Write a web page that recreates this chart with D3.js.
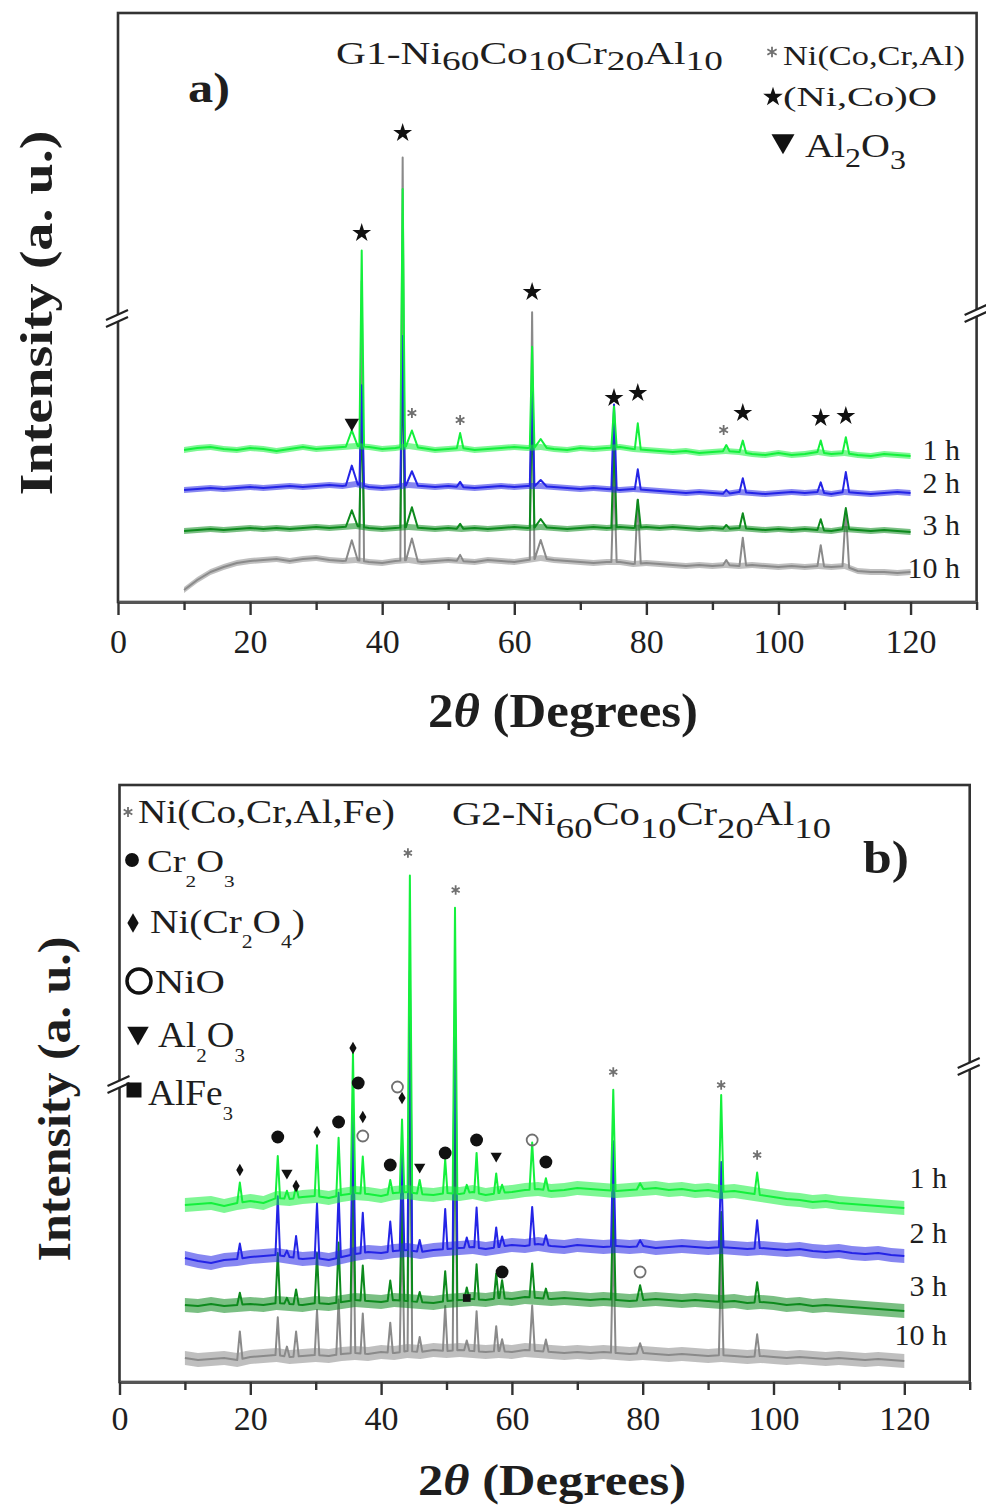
<!DOCTYPE html>
<html>
<head>
<meta charset="utf-8">
<script src="https://cdn.jsdelivr.net/npm/d3@7"></script>
<style>
  body { margin: 0; background: #fff; }
  svg { display: block; }
  text { font-family: "Liberation Serif", "Times New Roman", serif; fill: #1e1e1e; }
</style>
</head>
<body>
<svg id="chart" width="986" height="1511"></svg>
<script>
// ---- data ----
const angles = [10, 12, 14, 16, 18, 20, 22, 24, 26, 28, 30, 32, 34, 36, 38, 40, 42, 44, 46, 48,
  50, 52, 54, 56, 58, 60, 62, 64, 66, 68, 70, 72, 74, 76, 78, 80, 82, 84, 86, 88,
  90, 92, 94, 96, 98, 100, 102, 104, 106, 108, 110, 112, 114, 116, 118, 120];
const traceNames = ["1 h", "2 h", "3 h", "10 h"];
const majorTicks = [0, 20, 40, 60, 80, 100, 120];
const minorTicks = [10, 30, 50, 70, 90, 110, 130];

// panel a, baselines (a.u.) for 1 h, 2 h, 3 h, 10 h
const baseA1 = [152,154,155,153,152,154,153,151,153,155,153,154,155,156,155,153,154,156,154,152,
  153,154,152,153,154,155,154,155,153,152,154,153,154,155,153,152,151,150,151,149,
  150,151,150,148,147,149,147,148,150,148,149,147,146,148,147,146];
const baseA2 = [112,113,114,113,114,115,114,115,116,115,116,117,116,118,115,114,115,117,116,115,
  116,115,114,115,116,115,116,116,115,114,113,114,113,112,113,112,111,110,109,110,
  109,108,110,109,108,109,110,109,110,108,110,109,108,109,110,109];
const baseA3 = [71,72,73,72,73,74,73,74,73,74,75,74,75,76,74,73,74,75,74,73,
  74,73,74,73,74,75,74,75,74,73,74,75,74,75,74,75,74,75,74,73,
  74,73,74,73,72,73,72,73,72,71,73,72,71,72,71,70];
const baseA10 = [12,22,30,35,39,41,42,43,41,43,44,42,41,42,40,39,41,42,40,41,
  42,41,40,42,41,40,42,44,42,41,40,39,40,40,38,39,38,37,36,37,
  36,37,36,37,36,35,36,35,36,35,36,31,30,30,29,30];
// peaks: [2theta, half width, height 1 h, 2 h, 3 h, 10 h]
const peaksA = [
  [35.4, 0.9, 16, 19, 16, 20],
  [36.9, 0.35, 196, 100, 120, 280],
  [43.1, 0.35, 258, 150, 180, 403],
  [44.5, 0.9, 16, 14, 20, 22],
  [51.8, 0.5, 15, 5, 5, 6],
  [62.7, 0.35, 101, 110, 130, 247],
  [64.0, 0.9, 8, 6, 8, 18],
  [75.1, 0.4, 41, 85, 90, 90],
  [78.7, 0.45, 26, 20, 28, 64],
  [92.1, 0.5, 6, 4, 4, 5],
  [94.6, 0.5, 12, 14, 15, 28],
  [106.4, 0.5, 12, 10, 11, 21],
  [110.2, 0.5, 16, 20, 21, 56]
];
const markA_star = [[36.9, 369], [43.1, 469], [62.7, 310], [75.1, 204], [78.7, 209], [94.6, 189], [106.4, 184], [110.2, 186]];
const markA_ast = [[44.5, 189], [51.8, 182], [91.7, 172]];
const markA_tri = [[35.4, 179]];

// panel b
const baseB1 = [177,178,179,176,179,181,179,184,183,185,186,184,187,189,188,186,189,190,188,187,
  189,188,190,187,189,190,192,193,191,192,194,193,192,191,192,193,194,192,193,191,
  192,190,191,189,187,185,183,182,180,181,179,178,177,176,175,174];
const baseB2 = [124,121,119,122,123,125,126,127,125,123,124,122,125,128,130,129,131,132,130,132,
  133,134,135,133,135,137,136,138,136,135,137,136,135,136,135,136,134,135,136,135,
  134,135,134,133,134,133,132,133,131,130,131,129,128,129,127,126];
const baseB3 = [77,76,78,76,77,78,77,79,78,77,79,78,80,82,81,80,82,81,80,79,
  81,82,83,82,84,83,85,84,83,84,83,82,83,82,81,82,83,82,81,82,
  81,80,81,79,80,79,77,78,76,77,76,75,74,73,72,71];
const baseB10 = [24,22,23,24,22,25,26,27,25,26,27,26,28,29,28,30,29,31,30,32,
  31,32,31,30,31,30,32,31,30,29,30,29,30,29,28,29,28,27,28,27,
  26,27,26,25,26,25,24,25,24,23,24,23,22,23,22,21];
const peaksB = [
  [18.4, 0.4, 20, 15, 12, 28],
  [24.2, 0.35, 42, 59, 50, 38],
  [25.6, 0.4, 8, 6, 6, 10],
  [27.0, 0.4, 12, 22, 15, 25],
  [30.2, 0.35, 51, 55, 50, 45],
  [33.5, 0.35, 58, 65, 60, 55],
  [35.7, 0.35, 140, 140, 150, 160],
  [37.2, 0.35, 37, 40, 35, 40],
  [41.4, 0.4, 14, 30, 20, 30],
  [43.2, 0.35, 73, 100, 100, 130],
  [44.4, 0.35, 317, 280, 300, 330],
  [45.9, 0.4, 14, 12, 10, 15],
  [49.8, 0.35, 34, 40, 30, 45],
  [51.3, 0.35, 286, 250, 260, 300],
  [53.1, 0.4, 8, 10, 12, 10],
  [54.6, 0.35, 40, 40, 35, 40],
  [57.6, 0.35, 20, 20, 25, 25],
  [58.5, 0.4, 8, 10, 18, 12],
  [63.1, 0.4, 47, 38, 34, 45],
  [65.2, 0.4, 12, 10, 10, 12],
  [75.5, 0.35, 101, 105, 110, 120],
  [79.6, 0.5, 6, 6, 15, 10],
  [92.0, 0.35, 97, 85, 90, 100],
  [97.5, 0.4, 22, 28, 20, 22]
];
const markB_ast = [[44.1, 529], [51.4, 492], [75.5, 310], [92.0, 297], [97.5, 227]];
const markB_dot = [[24.2, 245], [33.5, 260], [36.5, 299], [41.4, 217], [49.8, 229], [54.6, 242], [65.2, 220], [58.5, 110]];
const markB_dia = [[18.4, 212], [27.0, 196], [30.2, 250], [35.7, 334], [37.2, 265], [43.2, 284]];
const markB_ring = [[37.2, 246], [42.5, 295], [63.1, 242], [79.6, 110]];
const markB_tri = [[25.6, 209], [45.9, 215], [57.6, 226]];
const markB_sq = [[53.1, 84]];

const colors = ["#14f03c", "#2424e6", "#0d8a1d", "#8a8a8a"];

const svg = d3.select("#chart");

// text with sub/superscript parts, stretched horizontally to a given width
function fitText(parent, o) {
  const g = parent.append("g");
  const t = g.append("text")
    .attr("text-anchor", o.anchor || "start")
    .style("font-size", o.size + "px")
    .style("font-weight", o.weight || "normal");
  let cur = 0;
  o.parts.forEach(p => {
    const sh = p[1] || 0;
    const s = t.append("tspan").text(p[0]).attr("dy", sh - cur);
    cur = sh;
    if (p[2]) s.style("font-size", (o.size * p[2]) + "px");
    if (p[3]) s.style("font-style", p[3]);
  });
  const w = t.node().getBBox().width;
  const k = o.width ? o.width / w : 1;
  g.attr("transform", "translate(" + o.x + "," + o.y + ")" +
    (o.rotate ? " rotate(" + o.rotate + ")" : "") + " scale(" + k + ",1)");
  return g;
}

function symbolPath(kind, size) {
  const types = {
    star: d3.symbolStar, ast: d3.symbolAsterisk, tri: d3.symbolTriangle,
    dot: d3.symbolCircle, dia: d3.symbolDiamond, ring: d3.symbolCircle, sq: d3.symbolSquare
  };
  return d3.symbol().type(types[kind]).size(size)();
}

function styleSymbol(sel, kind, stroke) {
  if (kind === "ast") sel.attr("fill", "none").attr("stroke", "#707070").attr("stroke-width", 1.8);
  else if (kind === "ring") sel.attr("fill", "none").attr("stroke", stroke || "#707070").attr("stroke-width", 1.8);
  else sel.attr("fill", "#111");
}

function drawMarks(g, x, y, list, kind, size) {
  const s = g.append("g").selectAll("path").data(list).join("path")
    .attr("d", symbolPath(kind, size))
    .attr("transform", d => "translate(" + x(d[0]) + "," + y(d[1]) + ")" + (kind === "tri" ? " rotate(180)" : ""));
  styleSymbol(s, kind);
}

function tracePoints(base, peaks, k) {
  const b = d3.scaleLinear().domain(angles).range(base);
  const pts = angles.map((a, i) => [a, base[i]])
    .filter(p => !peaks.some(pk => Math.abs(p[0] - pk[0]) < pk[1]));
  peaks.forEach(pk => {
    pts.push([pk[0] - pk[1], b(pk[0] - pk[1])], [pk[0], b(pk[0]) + pk[2 + k]], [pk[0] + pk[1], b(pk[0] + pk[1])]);
  });
  return pts.sort((p, q) => p[0] - q[0]);
}

function breakMark(g, cx, cy) {
  g.append("path").attr("d", "M" + (cx - 12) + "," + (cy + 4) + "L" + (cx + 10) + "," + (cy - 6) +
      "L" + (cx + 10) + "," + (cy + 1) + "L" + (cx - 12) + "," + (cy + 11) + "Z")
    .attr("fill", "#fff");
  [0, 7].forEach(o => g.append("line")
    .attr("x1", cx - 12).attr("y1", cy + 4 + o).attr("x2", cx + 10).attr("y2", cy - 6 + o)
    .attr("stroke", "#222").attr("stroke-width", 2.2));
}

function drawPanel(cfg) {
  const g = svg.append("g");
  const x = d3.scaleLinear().domain([0, 130]).range([cfg.left, cfg.right]);
  const y = d3.scaleLinear().domain([0, cfg.bottom - cfg.top]).range([cfg.bottom, cfg.top]);

  // trace labels (drawn under the traces)
  traceNames.forEach((n, i) => fitText(g, {
    x: cfg.labelX, y: cfg.labelY[i], anchor: "end", size: 30, parts: [[n]]
  }));

  // traces, oldest sample underneath
  const line = d3.line().x(d => x(d[0])).y(d => y(d[1]));
  const band = d3.area().x((d, i) => x(angles[i])).y0(d => y(d - cfg.band)).y1(d => y(d + cfg.band));
  [3, 2, 1, 0].forEach(k => {
    g.append("path").datum(cfg.bases[k]).attr("d", band)
      .attr("fill", colors[k]).attr("opacity", 0.55);
    g.append("path").datum(tracePoints(cfg.bases[k], cfg.peaks, k)).attr("d", line)
      .attr("fill", "none").attr("stroke", colors[k]).attr("stroke-width", 2)
      .attr("stroke-linejoin", "round");
  });

  // frame
  g.append("rect").attr("x", cfg.left).attr("y", cfg.top)
    .attr("width", cfg.right - cfg.left).attr("height", cfg.bottom - cfg.top)
    .attr("fill", "none").attr("stroke", "#333").attr("stroke-width", 2.6);

  // x axis
  const ax = g.append("g").attr("transform", "translate(0," + cfg.bottom + ")")
    .call(d3.axisBottom(x).tickValues(majorTicks).tickSize(13).tickSizeOuter(0).tickFormat(d3.format("d")));
  ax.select(".domain").attr("stroke", "#555").attr("stroke-width", 3.2);
  ax.selectAll(".tick line").attr("stroke", "#333").attr("stroke-width", 2.4);
  ax.selectAll(".tick text").attr("y", cfg.tickTextY).attr("dy", "0.71em")
    .style("font-size", "34px").style("font-family", "Liberation Serif, serif").attr("fill", "#222");
  const axm = g.append("g").attr("transform", "translate(0," + cfg.bottom + ")")
    .call(d3.axisBottom(x).tickValues(minorTicks).tickSize(8).tickSizeOuter(0).tickFormat(""));
  axm.select(".domain").remove();
  axm.selectAll(".tick line").attr("stroke", "#333").attr("stroke-width", 2.4);

  breakMark(g, cfg.left, cfg.breakL);
  breakMark(g, cfg.right, cfg.breakR);

  // axis titles
  fitText(g, { x: cfg.ylabX, y: cfg.ylabY, rotate: -90, anchor: "middle", size: 46, weight: "bold",
    width: cfg.ylabW, parts: [["Intensity (a. u.)"]] });
  fitText(g, { x: cfg.xlabX, y: cfg.xlabY, anchor: "middle", size: cfg.xlabS, weight: "bold",
    width: cfg.xlabW, parts: [["2"], ["θ", 0, 1, "italic"], [" (Degrees)"]] });

  return { g: g, x: x, y: y };
}

// ---------- panel a ----------
const A = drawPanel({
  left: 118, right: 976.6, top: 13, bottom: 602, band: 3,
  bases: [baseA1, baseA2, baseA3, baseA10], peaks: peaksA,
  labelX: 960, labelY: [460, 493, 535, 578], tickTextY: 27,
  breakL: 316, breakR: 311,
  ylabX: 52, ylabY: 313, ylabW: 365, xlabX: 563, xlabY: 727, xlabW: 270, xlabS: 48
});
drawMarks(A.g, A.x, A.y, markA_ast, "ast", 70);
drawMarks(A.g, A.x, A.y, markA_star, "star", 110);
drawMarks(A.g, A.x, A.y, markA_tri, "tri", 90);

fitText(A.g, { x: 336, y: 64, size: 31, width: 387,
  parts: [["G1-Ni"], ["60", 6, 0.9], ["Co"], ["10", 6, 0.9], ["Cr"], ["20", 6, 0.9], ["Al"], ["10", 6, 0.9]] });
fitText(A.g, { x: 188, y: 102, size: 42, weight: "bold", width: 42, parts: [["a)"]] });

// legend a
[["ast", 772, 52, 80], ["star", 773, 97, 120], ["tri", 783, 141, 230]].forEach(s => {
  const p = A.g.append("path").attr("d", symbolPath(s[0], s[3]))
    .attr("transform", "translate(" + s[1] + "," + s[2] + ")" + (s[0] === "tri" ? " rotate(180)" : ""));
  styleSymbol(p, s[0]);
});
fitText(A.g, { x: 783, y: 65, size: 27, width: 182, parts: [["Ni(Co,Cr,Al)"]] });
fitText(A.g, { x: 783, y: 106, size: 27, width: 154, parts: [["(Ni,Co)O"]] });
fitText(A.g, { x: 805, y: 157, size: 34, width: 101,
  parts: [["Al"], ["2", 10, 0.8], ["O"], ["3", 12, 0.8]] });

// ---------- panel b ----------
const B = drawPanel({
  left: 119.5, right: 969.7, top: 785, bottom: 1382, band: 7,
  bases: [baseB1, baseB2, baseB3, baseB10], peaks: peaksB,
  labelX: 947, labelY: [1188, 1243, 1296, 1345], tickTextY: 24,
  breakL: 1082, breakR: 1064,
  ylabX: 70, ylabY: 1099, ylabW: 325, xlabX: 552, xlabY: 1495, xlabW: 268, xlabS: 44
});
drawMarks(B.g, B.x, B.y, markB_ast, "ast", 60);
drawMarks(B.g, B.x, B.y, markB_dot, "dot", 130);
drawMarks(B.g, B.x, B.y, markB_dia, "dia", 45);
drawMarks(B.g, B.x, B.y, markB_ring, "ring", 95);
drawMarks(B.g, B.x, B.y, markB_tri, "tri", 55);
drawMarks(B.g, B.x, B.y, markB_sq, "sq", 60);

fitText(B.g, { x: 452, y: 825, size: 33, width: 379,
  parts: [["G2-Ni"], ["60", 13, 0.9], ["Co"], ["10", 13, 0.9], ["Cr"], ["20", 13, 0.9], ["Al"], ["10", 13, 0.9]] });
fitText(B.g, { x: 863, y: 873, size: 46, weight: "bold", width: 46, parts: [["b)"]] });

// legend b
[["ast", 128, 812, 70], ["dot", 132, 860, 150], ["dia", 133, 923, 110],
 ["ring", 139, 981, 452], ["tri", 138, 1033, 200], ["sq", 134, 1090, 225]].forEach(s => {
  const p = B.g.append("path").attr("d", symbolPath(s[0], s[3]))
    .attr("transform", "translate(" + s[1] + "," + s[2] + ")" + (s[0] === "tri" ? " rotate(180)" : ""));
  styleSymbol(p, s[0], "#111");
  if (s[0] === "ring") p.attr("stroke-width", 3.5);
});
fitText(B.g, { x: 138, y: 823, size: 33, width: 257, parts: [["Ni(Co,Cr,Al,Fe)"]] });
fitText(B.g, { x: 147, y: 872, size: 32, width: 88,
  parts: [["Cr"], ["2", 15, 0.55], ["O"], ["3", 15, 0.55]] });
fitText(B.g, { x: 150, y: 933, size: 33, width: 155,
  parts: [["Ni(Cr"], ["2", 15, 0.55], ["O"], ["4", 15, 0.55], [")"]] });
fitText(B.g, { x: 155, y: 993, size: 34, width: 70, parts: [["NiO"]] });
fitText(B.g, { x: 158, y: 1047, size: 35, width: 87,
  parts: [["Al"], ["2", 15, 0.55], ["O"], ["3", 15, 0.55]] });
fitText(B.g, { x: 148, y: 1105, size: 35, width: 85,
  parts: [["AlFe"], ["3", 15, 0.55]] });
</script>
</body>
</html>
